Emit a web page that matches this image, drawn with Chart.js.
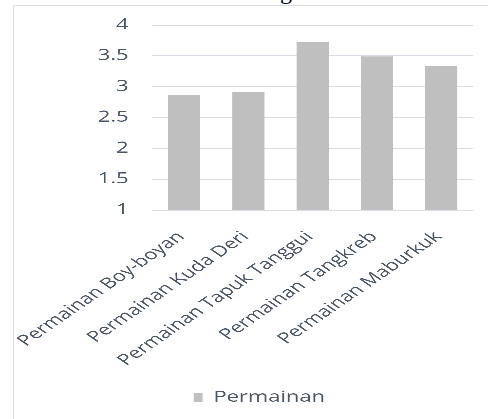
<!DOCTYPE html>
<html>
<head>
<meta charset="utf-8">
<script src="https://cdn.jsdelivr.net/npm/chart.js@4.4.1/dist/chart.umd.min.js"></script>
<style>
  html, body { margin: 0; padding: 0; background: #fff; overflow: hidden; }
  #page { position: relative; width: 488px; height: 419px; overflow: hidden; }
  #frame {
    position: absolute; left: 13px; top: 5px; width: 500px; height: 420px;
    border-left: 1px solid #d9dee6; border-top: 1px solid #d9dee6;
  }
  #titleFrag {
    position: absolute; left: 280px; top: -22px;
    font-family: "Liberation Serif", serif; font-size: 24px; color: #000;
  }
  /* the reference is stretched sideways, so the chart is drawn narrow and widened */
  #wrap {
    position: absolute; left: 0; top: 0; width: 334px; height: 419px;
    transform: scaleX(1.461); transform-origin: 0 0;
  }
</style>
</head>
<body>
<div id="page">
  <div id="frame"></div>
  <div id="titleFrag">g</div>
  <div id="wrap"><canvas id="chart"></canvas></div>
</div>
<script>
// data
const categories = [
    'Permainan Boy-boyan',
    'Permainan Kuda Deri',
    'Permainan Tapuk Tanggui',
    'Permainan Tangkreb',
    'Permainan Maburkuk'
];
const seriesName = 'Permainan';
const seriesValues = [2.86, 2.91, 3.73, 3.49, 3.34];
const yTicks = [1, 1.5, 2, 2.5, 3, 3.5, 4];

const textColor = '#4a5567';
const barColor = '#bfbfbf';

const ctx = document.getElementById('chart').getContext('2d');
const chart = new Chart(ctx, {
    type: 'bar',
    data: {
        labels: categories,
        datasets: [{
            label: seriesName,
            data: seriesValues,
            backgroundColor: barColor,
            borderWidth: 0,
            barPercentage: 0.5,
            categoryPercentage: 1.0
        }]
    },
    options: {
        responsive: true,
        maintainAspectRatio: false,
        animation: false,
        devicePixelRatio: 3,
        layout: {
            padding: { top: 24, right: 10, bottom: 4, left: 31 }
        },
        plugins: {
            legend: {
                display: true,
                position: 'bottom',
                labels: {
                    boxWidth: 6,
                    boxHeight: 9,
                    padding: 10,
                    color: textColor,
                    font: { family: 'Open Sans', size: 15 }
                }
            },
            tooltip: { enabled: false }
        },
        scales: {
            x: {
                grid: { display: false },
                border: { display: false },
                ticks: {
                    color: textColor,
                    maxRotation: 45,
                    minRotation: 45,
                    padding: 10,
                    labelOffset: -2,
                    font: { family: 'Open Sans', size: 15 }
                },
                afterFit: function(scale) {
                    scale.height = 170;
                    // long rotated labels may hang past the plot edge, like the reference
                    scale.paddingLeft = 0;
                    scale.paddingRight = 0;
                }
            },
            y: {
                min: yTicks[0],
                max: yTicks[yTicks.length - 1],
                afterBuildTicks: function(scale) {
                    scale.ticks = yTicks.map(v => ({ value: v }));
                },
                grid: {
                    color: '#d9dee6',
                    lineWidth: 1,
                    drawTicks: false
                },
                border: { display: false },
                ticks: {
                    color: textColor,
                    padding: 16,
                    font: { family: 'Open Sans', size: 15 },
                    callback: function(value) {
                        return String(value);
                    }
                },
                afterFit: function(scale) {
                    scale.width = 73;
                }
            }
        }
    }
});
</script>
</body>
</html>
